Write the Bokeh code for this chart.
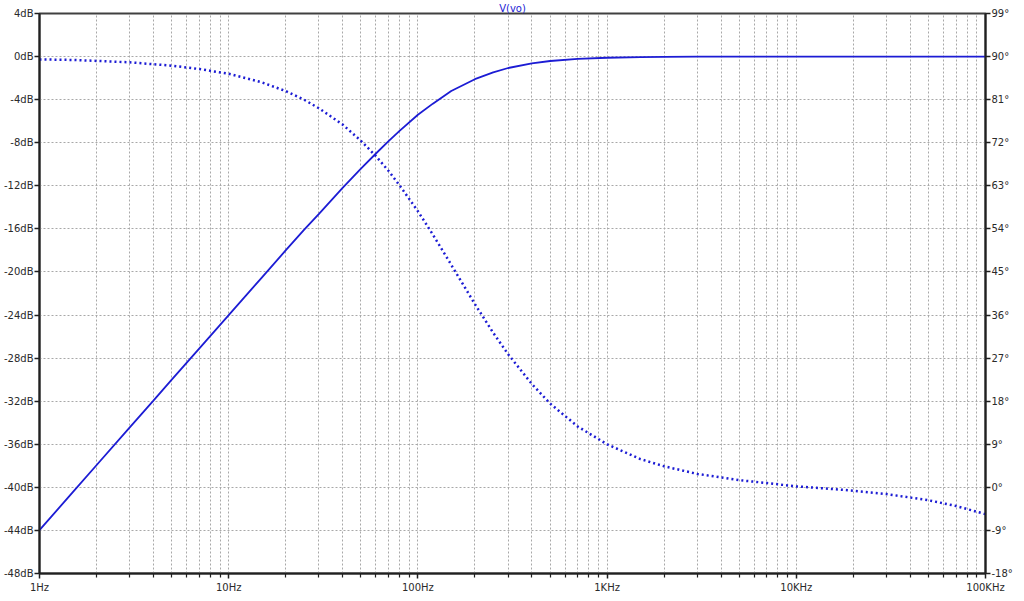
from bokeh.plotting import figure
from bokeh.models import (Range1d, LinearAxis, FixedTicker, CustomJSTickFormatter,
                          PrintfTickFormatter)
from bokeh.embed import file_html
from bokeh.resources import INLINE

# ---- data (frequency in Hz) ----
freq = [1, 1.5, 2, 3, 4, 5, 7, 10, 15, 20, 25, 30, 40, 50, 60, 70, 80, 100, 120,
        150, 200, 250, 300, 400, 500, 700, 1000, 1500, 2000, 3000, 5000, 7000,
        10000, 15000, 20000, 30000, 50000, 70000, 100000]
mag_db = [-43.97, -40.45, -37.95, -34.43, -31.95, -30.0, -27.1, -24.0, -20.5,
          -18.0, -16.1, -14.6, -12.2, -10.4, -9.0, -7.85, -6.9, -5.4, -4.37,
          -3.2, -2.1, -1.46, -1.06, -0.63, -0.41, -0.22, -0.11, -0.05, -0.03,
          -0.01, 0.0, 0.0, 0.0, 0.0, 0.0, 0.0, 0.0, 0.0, 0.0]
phase_deg = [89.4, 89.3, 89.1, 88.8, 88.4, 88.1, 87.4, 86.4, 84.6, 82.8, 81.0,
             79.2, 75.8, 72.4, 69.2, 66.1, 63.1, 57.7, 52.8, 46.5, 38.3, 32.3,
             27.8, 21.6, 17.5, 12.7, 9.0, 5.9, 4.4, 2.8, 1.5, 0.9, 0.2, -0.3,
             -0.7, -1.4, -2.7, -3.9, -5.6]

x_major = [1, 10, 100, 1000, 10000, 100000]
x_labels = ["1Hz", "10Hz", "100Hz", "1KHz", "10KHz", "100KHz"]
x_minor = [m * d for d in [1, 10, 100, 1000, 10000] for m in range(2, 10)]
db_ticks = list(range(-48, 5, 4))
deg_ticks = list(range(-18, 100, 9))

TRACE = "#1c1cd4"
GRID = "#a8a8a8"
TXT = "#2a2a2a"
FONT = "DejaVu Sans"

p = figure(output_backend="svg", toolbar_location=None,
           x_axis_type="log", x_range=Range1d(1, 100000),
           y_range=Range1d(-48, 4),
           frame_width=946, frame_height=560,
           min_border_left=30, min_border_right=28,
           min_border_top=4, min_border_bottom=18,
           title="V(vo)")
p.extra_y_ranges = {"phase": Range1d(-18, 99)}

p.title.align = "center"
p.title.text_color = TRACE
p.title.text_font = FONT
p.title.text_font_size = "10px"
p.title.text_font_style = "normal"
p.title.standoff = 0
p.title.offset = 0

p.outline_line_color = "#404040"
p.outline_line_width = 2
p.background_fill_color = "white"
p.border_fill_color = "white"

# x axis
xa = p.xaxis[0]
xa.ticker = FixedTicker(ticks=x_major, minor_ticks=x_minor)
xa.formatter = CustomJSTickFormatter(args=dict(vals=x_major, labs=x_labels), code="""
    for (let i = 0; i < vals.length; i++) {
        if (Math.abs(tick / vals[i] - 1) < 1e-6) return labs[i];
    }
    return '';
""")

# left axis
ya = p.yaxis[0]
ya.ticker = FixedTicker(ticks=db_ticks)
ya.formatter = PrintfTickFormatter(format="%ddB")

# right axis
ra = LinearAxis(y_range_name="phase")
ra.ticker = FixedTicker(ticks=deg_ticks)
ra.formatter = PrintfTickFormatter(format="%d°")
p.add_layout(ra, "right")

for ax in [xa, ya, ra]:
    ax.axis_line_color = "#202020"
    ax.axis_line_width = 2
    ax.major_tick_line_color = "#202020"
    ax.major_tick_line_width = 1.5
    ax.major_tick_out = 5
    ax.major_tick_in = 0
    ax.major_label_text_font = FONT
    ax.major_label_text_font_size = "10px"
    ax.major_label_text_color = TXT
    ax.major_label_standoff = 1
ya.minor_tick_line_color = None
ra.minor_tick_line_color = None
xa.minor_tick_line_color = "#202020"
xa.minor_tick_line_width = 1.2
xa.minor_tick_out = 4
xa.minor_tick_in = 0
xa.major_label_standoff = 3

# grids
p.xgrid.grid_line_color = GRID
p.xgrid.grid_line_dash = "2 2"
p.xgrid.minor_grid_line_color = GRID
p.xgrid.minor_grid_line_dash = "2 2"
p.ygrid.grid_line_color = GRID
p.ygrid.grid_line_dash = "2 2"

# traces
p.line(freq, mag_db, line_color=TRACE, line_width=1.8)
p.line(freq, phase_deg, y_range_name="phase", line_color=TRACE,
       line_width=2.5, line_dash="2 3")

open("out.html", "w").write(file_html(p, INLINE))
